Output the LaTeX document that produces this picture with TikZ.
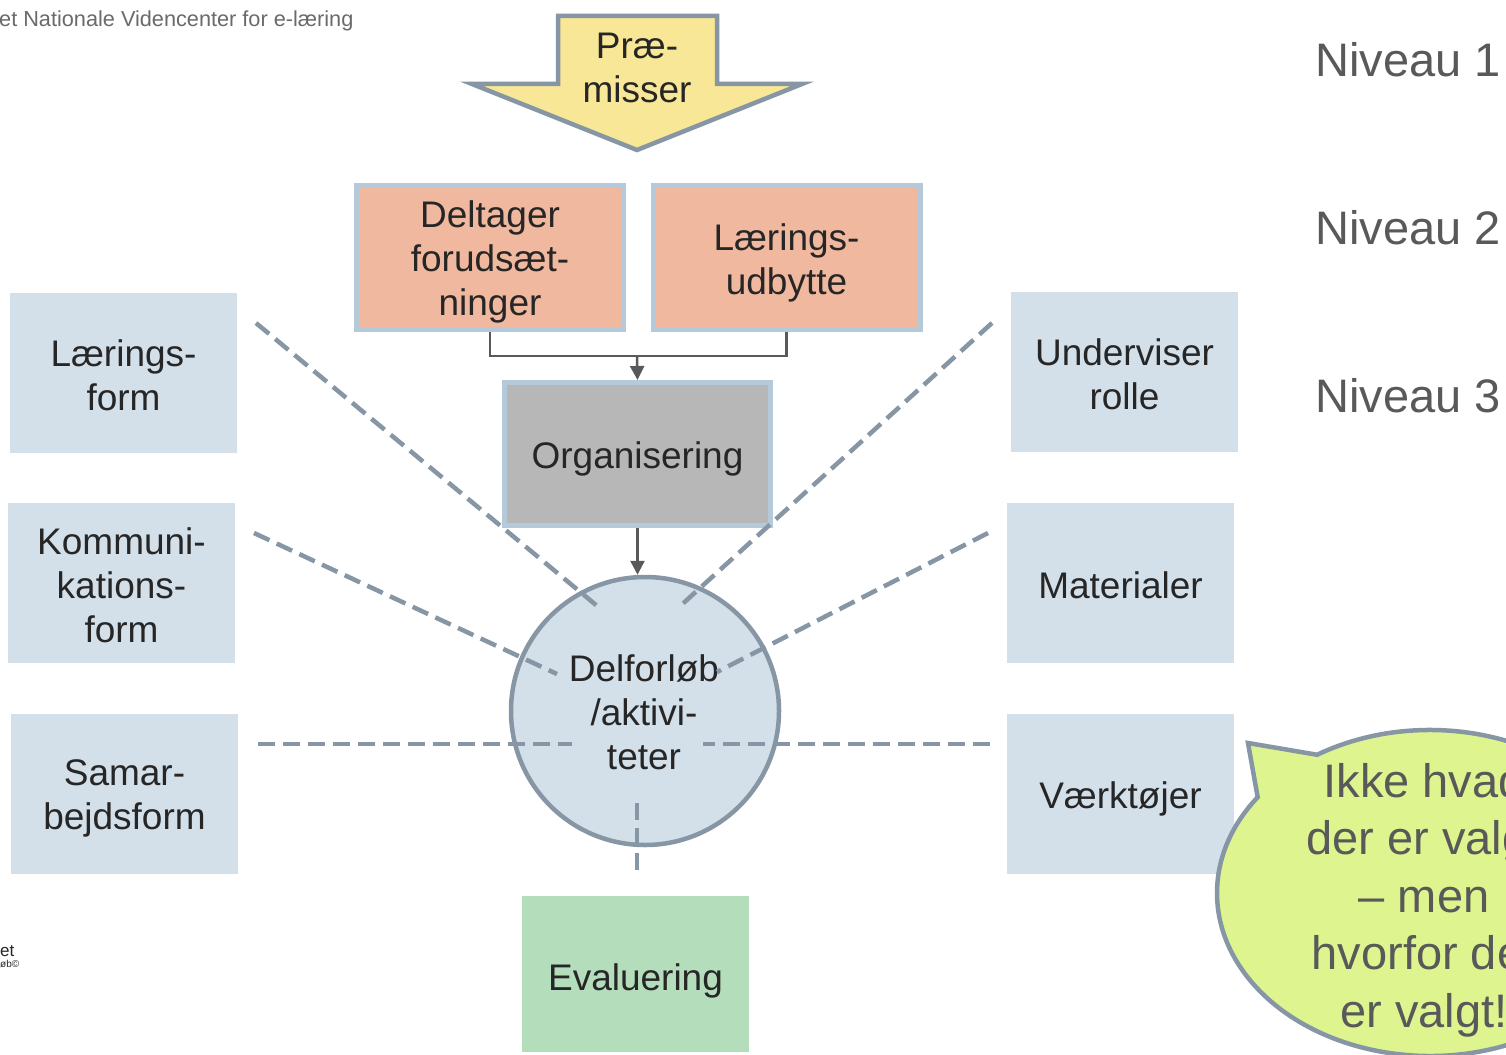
\documentclass[tikz,border=0pt]{standalone}
\usepackage{fontspec}
\setmainfont{Liberation Sans}
\usetikzlibrary{arrows.meta,calc}
\definecolor{textdark}{HTML}{262626}
\definecolor{textgray}{HTML}{595959}
\definecolor{boxblue}{HTML}{D3DFE9}
\definecolor{edgeblue}{HTML}{B4CADA}
\definecolor{edgegray}{HTML}{8796A5}
\definecolor{salmon}{HTML}{F0B89E}
\definecolor{orggray}{HTML}{B7B7B7}
\definecolor{evalgreen}{HTML}{B3DDBB}
\definecolor{premyellow}{HTML}{F8E796}
\definecolor{bubblegreen}{HTML}{DEF58F}
\definecolor{conngray}{HTML}{595959}
\begin{document}
\begin{tikzpicture}[x=1pt,y=-1pt,
  txt/.style={font=\fontsize{37}{44}\selectfont, text=textdark, align=center, inner sep=0pt},
  sidebox/.style={fill=boxblue, minimum width=227, minimum height=160, inner sep=0pt},
  topbox/.style={fill=salmon, draw=edgeblue, line width=5pt, minimum width=267, minimum height=144, inner sep=0pt},
  dashline/.style={draw=edgegray, line width=4.5pt, dash pattern=on 17pt off 8pt},
  conn/.style={draw=conngray, line width=2.5pt},
  arr/.style={conn, -{Triangle[width=14pt,length=14pt]}},
  niveau/.style={font=\fontsize{47}{56}\selectfont, text=textgray, anchor=base west, inner sep=0pt}
]
\clip (0,0) rectangle (1506,1054);
\fill[white] (0,0) rectangle (1506,1054);

% header
\node[anchor=base west, inner sep=0pt, text=textgray!90, font=\fontsize{21.7}{24}\selectfont] (hdr) at (-1,27) {et Nationale Videncenter for e-læring};
\node[anchor=base west, inner sep=0pt, text=textdark, font=\fontsize{17}{18}\selectfont] (ft1) at (0,956) {et};
\node[anchor=base west, inner sep=0pt, text=textdark, font=\fontsize{10}{11}\selectfont] (ft2) at (0,967) {øb©};

% Præmisser arrow
\draw[fill=premyellow, draw=edgegray, line width=4.5pt, line join=miter]
  (558,16) -- (717,16) -- (717,84) -- (802,84) -- (637,150) -- (472,84) -- (558,84) -- cycle;
\node[txt] (prem) at (637,68) {Præ-\\misser};

% level 2 boxes
\node[topbox] (delt) at (490,257.5) {};
\node[txt] (delt-t) at (490,262) {Deltager\\forudsæt-\\ninger};
\node[topbox] (laer) at (786.5,257.5) {};
\node[txt] (laer-t) at (786.5,262.5) {Lærings-\\udbytte};

% Organisering
\node[fill=orggray, draw=edgeblue, line width=5pt, minimum width=266, minimum height=143, inner sep=0pt] (org) at (637.5,454) {};
\node[txt] (org-t) at (637.5,459) {Organisering};

% circle
\node[circle, fill=boxblue, draw=edgegray, line width=4.5pt, minimum size=268, inner sep=0pt] (circ) at (645,711) {};
\node[txt] (circ-t) at (644,712.5) {Delforløb\\/aktivi-\\teter};

% side boxes
\node[sidebox] (lf) at (123.5,373) {};
\node[txt] (lf-t) at (123.5,375) {Lærings-\\form};
\node[sidebox] (kf) at (121.5,583) {};
\node[txt] (kf-t) at (121.5,585) {Kommuni-\\kations-\\form};
\node[sidebox] (sf) at (124.5,794) {};
\node[txt] (sf-t) at (124.5,798) {Samar-\\bejdsform};
\node[sidebox] (ur) at (1124.5,372) {};
\node[txt] (ur-t) at (1124.5,374) {Underviser\\rolle};
\node[sidebox] (ma) at (1120.5,583) {};
\node[txt] (ma-t) at (1120.5,585) {Materialer};
\node[sidebox] (vt) at (1120.5,794) {};
\node[txt] (vt-t) at (1120.5,799) {Værktøjer};
\node[fill=evalgreen, minimum width=227, minimum height=156, inner sep=0pt] (ev) at (635.5,974) {};
\node[txt] (ev-t) at (635.5,981) {Evaluering};

% dashed lines
\coordinate (d1a) at (256,323); \coordinate (d1b) at (602,610);
\coordinate (d2a) at (992,323); \coordinate (d2b) at (678,608);
\coordinate (d3a) at (254,533); \coordinate (d3b) at (557,674);
\coordinate (d4a) at (988,533); \coordinate (d4b) at (717,672);
\coordinate (d5a) at (258,744); \coordinate (d5b) at (572,744);
\coordinate (d6a) at (990,744); \coordinate (d6b) at (703,744);
\coordinate (d7a) at (637,803); \coordinate (d7b) at (637,877);
\draw[dashline] (d1a) -- (d1b);
\draw[dashline] (d2a) -- (d2b);
\draw[dashline] (d3a) -- (d3b);
\draw[dashline] (d4a) -- (d4b);
\draw[dashline] (d5a) -- (d5b);
\draw[dashline] (d6a) -- (d6b);
\draw[dashline] (d7a) -- (d7b);

% connectors
\coordinate (j) at (637,356);
\draw[conn] (delt.south) |- (j) -| (laer.south);
\draw[arr] (j) -- (org.north);
\draw[arr] (org.south) -- (org.south |- circ.north);

% Niveau labels
\node[niveau] (n1) at (1315,77) {Niveau 1};
\node[niveau] (n2) at (1315,244) {Niveau 2};
\node[niveau] (n3) at (1315,412) {Niveau 3};

% speech bubble
\draw[fill=bubblegreen, draw=edgegray, line width=4.5pt, line join=miter]
  (1430,893) ++(238:213 and 163) arc[start angle=238, end angle=576, x radius=213, y radius=163] -- (1248,743) -- cycle;
\node[font=\fontsize{47}{57.5}\selectfont, text=textgray, align=center, inner sep=0pt] (bub) at (1424,900) {Ikke hvad\\der er valgt\\– men\\hvorfor det\\er valgt!};
\end{tikzpicture}
\end{document}
